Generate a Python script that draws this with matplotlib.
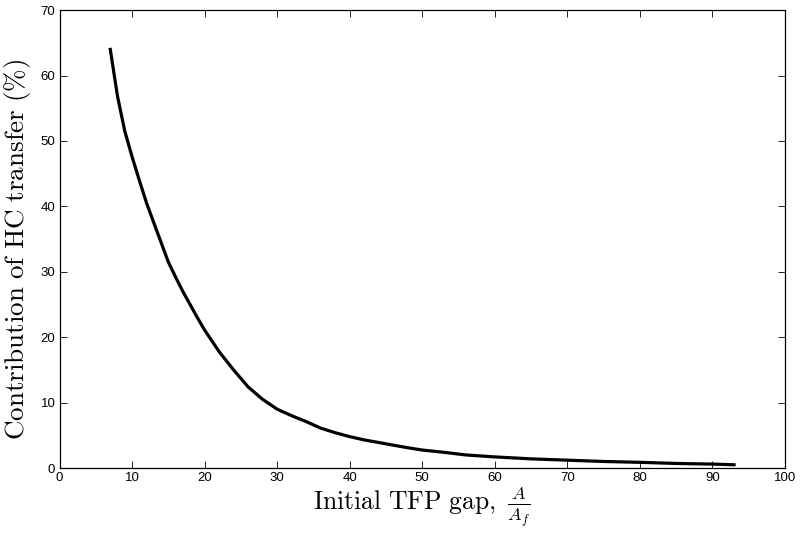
import matplotlib
matplotlib.use("Agg")
import matplotlib.pyplot as plt

gap = [7, 8, 9, 10, 11, 12, 13, 14, 15, 16, 17, 18, 19, 20, 22, 24, 26, 28, 30,
       32, 34, 36, 38, 40, 42, 45, 48, 50, 53, 56, 60, 65, 70, 75, 80, 85, 90, 93]
contrib = [64.0, 56.8, 51.5, 47.6, 44.0, 40.5, 37.5, 34.5, 31.5, 29.2, 27.0, 25.0,
           23.0, 21.1, 17.8, 15.0, 12.4, 10.5, 9.0, 8.0, 7.1, 6.1, 5.4, 4.8, 4.3,
           3.7, 3.1, 2.75, 2.4, 2.0, 1.7, 1.4, 1.2, 1.0, 0.87, 0.7, 0.6, 0.5]
xticks = [0, 10, 20, 30, 40, 50, 60, 70, 80, 90, 100]
yticks = [0, 10, 20, 30, 40, 50, 60, 70]

plt.rcParams['font.family'] = ['Liberation Sans', 'DejaVu Sans']
plt.rcParams['mathtext.fontset'] = 'cm'

fig = plt.figure(figsize=(8, 5.35), dpi=100)
ax = fig.add_axes([0.0744, 0.1252, 0.9066, 0.8558])
ax.plot(gap, contrib, color='black', linewidth=2.3)
ax.set_xlim(0, 100)
ax.set_ylim(0, 70)
ax.set_xticks(xticks)
ax.set_yticks(yticks)
ax.tick_params(direction='in', top=True, right=True, length=5, width=0.6,
               labelsize=9.5, pad=3)
for s in ax.spines.values():
    s.set_linewidth(0.9)
ax.set_xlabel(r'$\mathrm{Initial\ TFP\ gap,}\ \frac{A}{A_f}$', fontsize=18.5, labelpad=1)
ax.set_ylabel(r'$\mathrm{Contribution\ of\ HC\ transfer\ (\%)}$', fontsize=19.5)
ax.yaxis.set_label_coords(-0.036, 0.478)
fig.savefig('out.png', dpi=100)
